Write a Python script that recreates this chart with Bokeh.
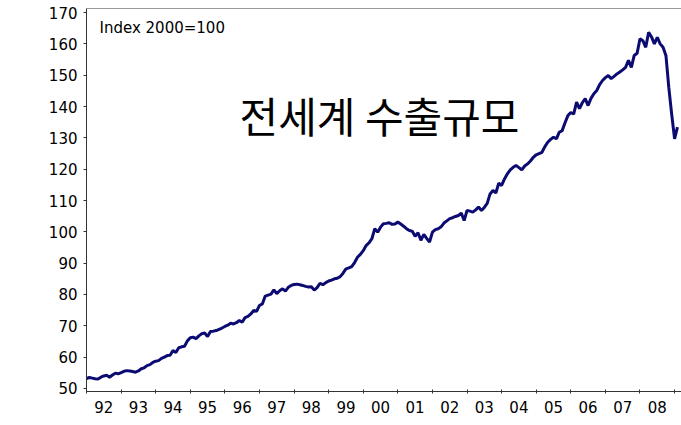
from bokeh.plotting import figure
from bokeh.models import Range1d, FixedTicker, Span, Label
from bokeh.embed import file_html
from bokeh.resources import INLINE

# Monthly world export volume index (2000=100), Jan 1992 - Feb 2009
v1992 = [53.2, 53.5, 53.3, 53.1, 53.0, 53.6, 54.0, 54.2, 53.6, 54.3, 54.9, 54.7]
v1993 = [55.1, 55.5, 55.7, 55.6, 55.4, 55.2, 55.6, 56.3, 56.6, 57.3, 57.6, 58.3]
v1994 = [58.7, 58.9, 59.6, 60.0, 60.5, 60.6, 62.1, 61.5, 63.0, 63.3, 63.5, 65.2]
v1995 = [66.2, 66.4, 65.9, 66.8, 67.5, 67.7, 66.6, 68.2, 68.3, 68.5, 68.9, 69.3]
v1996 = [69.8, 70.2, 70.8, 70.6, 71.0, 71.7, 71.2, 72.6, 73.0, 73.8, 74.9, 74.6]
v1997 = [76.5, 77.0, 79.5, 79.8, 80.1, 81.5, 80.3, 81.2, 81.8, 81.1, 82.3, 82.9]
v1998 = [83.2, 83.3, 83.1, 82.9, 82.6, 82.4, 82.5, 81.4, 82.2, 83.6, 83.1, 83.8]
v1999 = [84.3, 84.6, 85.0, 85.2, 85.7, 86.8, 88.2, 88.5, 88.9, 90.2, 91.9, 92.8]
v2000 = [94.0, 95.6, 96.5, 97.8, 101.0, 99.9, 101.5, 102.6, 102.7, 102.9, 102.4, 102.5]
v2001 = [103.1, 102.5, 101.8, 101.0, 100.4, 100.2, 98.6, 99.7, 97.3, 99.2, 97.9, 96.7]
v2002 = [99.9, 100.7, 101.0, 101.6, 102.8, 103.5, 104.2, 104.5, 104.9, 105.2, 106.0, 103.6]
v2003 = [106.8, 106.6, 106.3, 107.0, 107.9, 106.8, 107.8, 109.1, 112.1, 113.2, 112.4, 115.5]
v2004 = [114.8, 116.9, 118.5, 119.8, 120.6, 121.2, 120.5, 119.8, 121.0, 121.7, 122.6, 123.8]
v2005 = [124.6, 125.0, 125.4, 127.2, 128.6, 129.5, 130.2, 129.7, 131.8, 132.3, 134.8, 137.1]
v2006 = [138.1, 137.6, 141.4, 139.3, 141.2, 142.5, 140.3, 142.6, 144.1, 145.1, 147.0, 148.3]
v2007 = [149.2, 149.9, 148.9, 149.6, 150.4, 151.0, 151.7, 152.5, 154.7, 152.5, 156.3, 157.0]
v2008 = [161.6, 161.0, 158.9, 163.7, 162.2, 160.0, 162.1, 160.0, 158.9, 156.3, 146.0, 137.5]
v2009 = [129.7, 133.4]

years = list(range(1992, 2009))
year_labels = ["92", "93", "94", "95", "96", "97", "98", "99", "00",
               "01", "02", "03", "04", "05", "06", "07", "08"]
y_ticks = [50, 60, 70, 80, 90, 100, 110, 120, 130, 140, 150, 160, 170]

values = (v1992 + v1993 + v1994 + v1995 + v1996 + v1997 + v1998 + v1999 +
          v2000 + v2001 + v2002 + v2003 + v2004 + v2005 + v2006 + v2007 +
          v2008 + v2009)
t = [1992 + i / 12.0 for i in range(len(values))]

index_note = "Index 2000=100"
title_text = "전세계 수출규모"

Y0, Y1 = 49.04, 171.28
X0, X1 = 1992.0, 2009.2

p = figure(width=681, height=425, output_backend="svg", toolbar_location=None,
           x_range=Range1d(X0, X1), y_range=Range1d(Y0, Y1),
           min_border_left=86, min_border_right=0, min_border_top=8,
           min_border_bottom=34)
p.outline_line_color = None
p.grid.visible = False
p.background_fill_color = "white"
p.border_fill_color = "white"

p.line(t, values, line_color="#0b0b72", line_width=3)

# top frame line
p.add_layout(Span(location=Y1, dimension="width", line_color="#333333",
                  line_width=1))

# x axis: labels at mid-year, tick marks at year boundaries
xa = p.xaxis[0]
mids = [y + 0.5 for y in years]
xa.ticker = FixedTicker(ticks=mids, minor_ticks=years + [2009])
xa.major_label_overrides = {m: lab for m, lab in zip(mids, year_labels)}
xa.major_tick_in = 0
xa.major_tick_out = 0
xa.minor_tick_in = 2
xa.minor_tick_out = 2
xa.minor_tick_line_color = "#333333"
xa.axis_line_color = "#333333"
xa.major_label_text_font = "DejaVu Sans"
xa.major_label_text_font_size = "15px"
xa.major_label_text_color = "black"
xa.major_label_standoff = 7

ya = p.yaxis[0]
ya.ticker = FixedTicker(ticks=y_ticks, minor_ticks=[])
ya.major_tick_in = 0
ya.major_tick_out = 3
ya.major_tick_line_color = "#333333"
ya.axis_line_color = "#333333"
ya.major_label_text_font = "DejaVu Sans"
ya.major_label_text_font_size = "15px"
ya.major_label_text_color = "black"
ya.major_label_standoff = 6

p.add_layout(Label(x=1992.376, y=165.2, text=index_note,
                   text_font="DejaVu Sans", text_font_size="15px",
                   text_color="black", text_baseline="alphabetic",
                   text_align="left"))
p.add_layout(Label(x=2000.47, y=137.45, text=title_text,
                   text_font="Noto Sans CJK KR", text_font_size="42px",
                   text_color="black", text_baseline="middle",
                   text_align="center"))

open("out.html", "w").write(file_html(p, INLINE))
